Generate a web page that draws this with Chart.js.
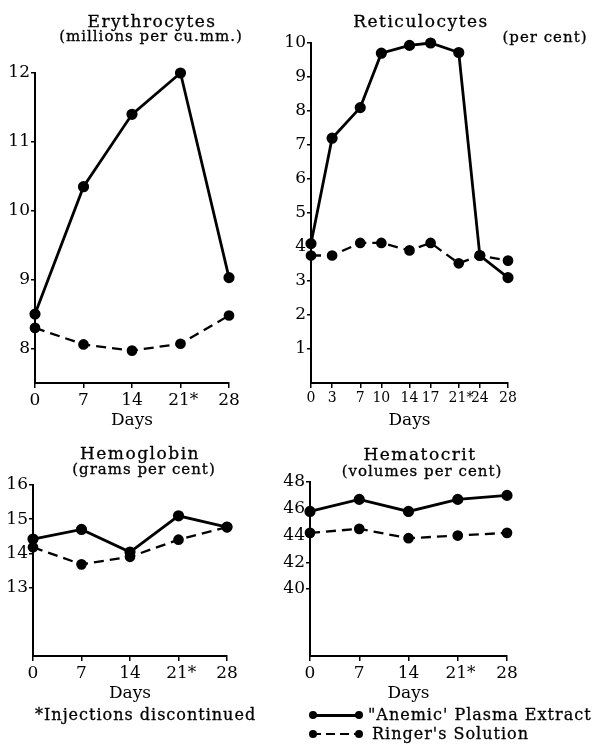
<!DOCTYPE html>
<html>
<head>
<meta charset="utf-8">
<title>Erythrocytes, Reticulocytes, Hemoglobin, Hematocrit</title>
<script src="https://cdn.jsdelivr.net/npm/chart.js"></script>
<style>
    html, body { margin: 0; background: #fff; }
    #page { position: relative; width: 607px; height: 748px; overflow: hidden;
            font-family: 'DejaVu Serif', serif; color: #000; }
    #page canvas { position: absolute; left: 0; top: 0; }
    .txt { position: absolute; white-space: nowrap; line-height: 1; letter-spacing: 1px;
           -webkit-text-stroke: 0.3px #000; }
    .mid { transform: translateX(-50%); }
    .big { font-size: 17px; letter-spacing: 1.5px; }
    .small { font-size: 15px; }
    .key { position: absolute; left: 312px; width: 48px; height: 2.5px; background: #000; }
    .key.dash { height: 2px; background: repeating-linear-gradient(to right, #000 0 9px, transparent 9px 14px); }
    .key span { position: absolute; top: -3px; width: 8px; height: 8px; border-radius: 50%; background: #000; }
</style>
</head>
<body>
<div id="page">
    <canvas id="ery" width="607" height="748"></canvas>
    <canvas id="ret" width="607" height="748"></canvas>
    <canvas id="hgb" width="607" height="748"></canvas>
    <canvas id="hct" width="607" height="748"></canvas>

    <div class="txt big mid" style="left:152px; top:13px;">Erythrocytes</div>
    <div class="txt small mid" style="left:151px; top:29px;">(millions per cu.mm.)</div>
    <div class="txt big mid" style="left:421px; top:13px;">Reticulocytes</div>
    <div class="txt small mid" style="left:545px; top:30px;">(per cent)</div>
    <div class="txt big mid" style="left:140px; top:445px;">Hemoglobin</div>
    <div class="txt small mid" style="left:144px; top:462px;">(grams per cent)</div>
    <div class="txt big mid" style="left:420px; top:446px;">Hematocrit</div>
    <div class="txt small mid" style="left:422px; top:464px;">(volumes per cent)</div>

    <div class="txt" style="left:35px; top:707px; font-size:16px;">*Injections discontinued</div>

    <div class="key" style="top:714px;"><span style="left:-3px"></span><span style="right:-3px"></span></div>
    <div class="txt" style="left:368px; top:707px; font-size:16px;">"Anemic' Plasma Extract</div>
    <div class="key dash" style="top:733px;"><span style="left:-3px"></span><span style="right:-3px"></span></div>
    <div class="txt" style="left:372px; top:726px; font-size:16px;">Ringer's Solution</div>
</div>

<script>
    // values
    const eryDays = [0, 7, 14, 21, 28];
    const eryExtract = [8.5, 10.35, 11.4, 12.0, 9.03];
    const eryRinger = [8.3, 8.06, 7.97, 8.07, 8.48];
    const eryTicks = [8, 9, 10, 11, 12];

    const retDays = [0, 3, 7, 10, 14, 17, 21, 24, 28];
    const retExtract = [4.1, 7.2, 8.1, 9.7, 9.93, 10.0, 9.72, 3.75, 3.1];
    const retRinger = [3.75, 3.75, 4.12, 4.12, 3.9, 4.12, 3.52, 3.75, 3.6];
    const retTicks = [1, 2, 3, 4, 5, 6, 7, 8, 9, 10];

    const hgbDays = [0, 7, 14, 21, 28];
    const hgbExtract = [14.42, 14.7, 14.04, 15.1, 14.77];
    const hgbRinger = [14.18, 13.68, 13.9, 14.4, 14.77];
    const hgbTicks = [13, 14, 15, 16];

    const hctDays = [0, 7, 14, 21, 28];
    const hctExtract = [45.8, 46.7, 45.8, 46.7, 47.0];
    const hctRinger = [44.2, 44.5, 43.8, 44.0, 44.2];
    const hctTicks = [40, 42, 44, 46, 48];

    Chart.defaults.font.family = "'DejaVu Serif', serif";
    Chart.defaults.color = '#000';

    const W = 607, H = 748;
    const Y_W = 30, X_H = 50;

    function xyPairs(xs, ys) {
        return xs.map((x, i) => ({ x: x, y: ys[i] }));
    }

    function panel(id, area, days, extract, ringer, yMin, yMax, yTicks, xFontSize) {
        new Chart(document.getElementById(id), {
            type: 'line',
            data: {
                datasets: [{
                    label: '"Anemic\' Plasma Extract',
                    data: xyPairs(days, extract),
                    borderColor: '#000',
                    backgroundColor: '#000',
                    borderWidth: 2.8,
                    pointRadius: 4.2,
                    clip: false
                }, {
                    label: "Ringer's Solution",
                    data: xyPairs(days, ringer),
                    borderColor: '#000',
                    backgroundColor: '#000',
                    borderWidth: 2.3,
                    borderDash: [10, 6],
                    pointRadius: 4.2,
                    clip: false
                }]
            },
            options: {
                responsive: false,
                animation: false,
                events: [],
                layout: {
                    padding: {
                        left: area.left - Y_W,
                        right: W - area.right,
                        top: area.top,
                        bottom: H - area.bottom - X_H
                    }
                },
                plugins: { legend: { display: false }, tooltip: { enabled: false } },
                scales: {
                    x: {
                        type: 'linear',
                        min: 0,
                        max: 28,
                        afterFit: s => { s.height = X_H; },
                        afterBuildTicks: s => { s.ticks = days.map(v => ({ value: v })); },
                        border: { color: '#000', width: 2 },
                        grid: { drawOnChartArea: false, color: '#000', tickLength: 5, lineWidth: 1.5 },
                        ticks: {
                            autoSkip: false,
                            maxRotation: 0,
                            padding: 2,
                            font: { size: xFontSize },
                            callback: v => v === 21 ? ' 21*' : String(v)
                        },
                        title: { display: true, text: 'Days', font: { size: 17 }, padding: { top: 0, bottom: 2 } }
                    },
                    y: {
                        min: yMin,
                        max: yMax,
                        afterFit: s => { s.width = Y_W; },
                        afterBuildTicks: s => { s.ticks = yTicks.map(v => ({ value: v })); },
                        border: { color: '#000', width: 2 },
                        grid: { drawOnChartArea: false, color: '#000', tickLength: 4, lineWidth: 1.5 },
                        ticks: { padding: 1, font: { size: 17 } }
                    }
                }
            }
        });
    }

    panel('ery', { left: 35, right: 229, top: 73, bottom: 383 }, eryDays, eryExtract, eryRinger, 7.5, 12, eryTicks, 17);
    panel('ret', { left: 311, right: 508, top: 43, bottom: 383 }, retDays, retExtract, retRinger, 0, 10, retTicks, 14);
    panel('hgb', { left: 33, right: 227, top: 485, bottom: 656 }, hgbDays, hgbExtract, hgbRinger, 11, 16, hgbTicks, 17);
    panel('hct', { left: 310, right: 507, top: 482, bottom: 656 }, hctDays, hctExtract, hctRinger, 35, 48, hctTicks, 17);
</script>
</body>
</html>
